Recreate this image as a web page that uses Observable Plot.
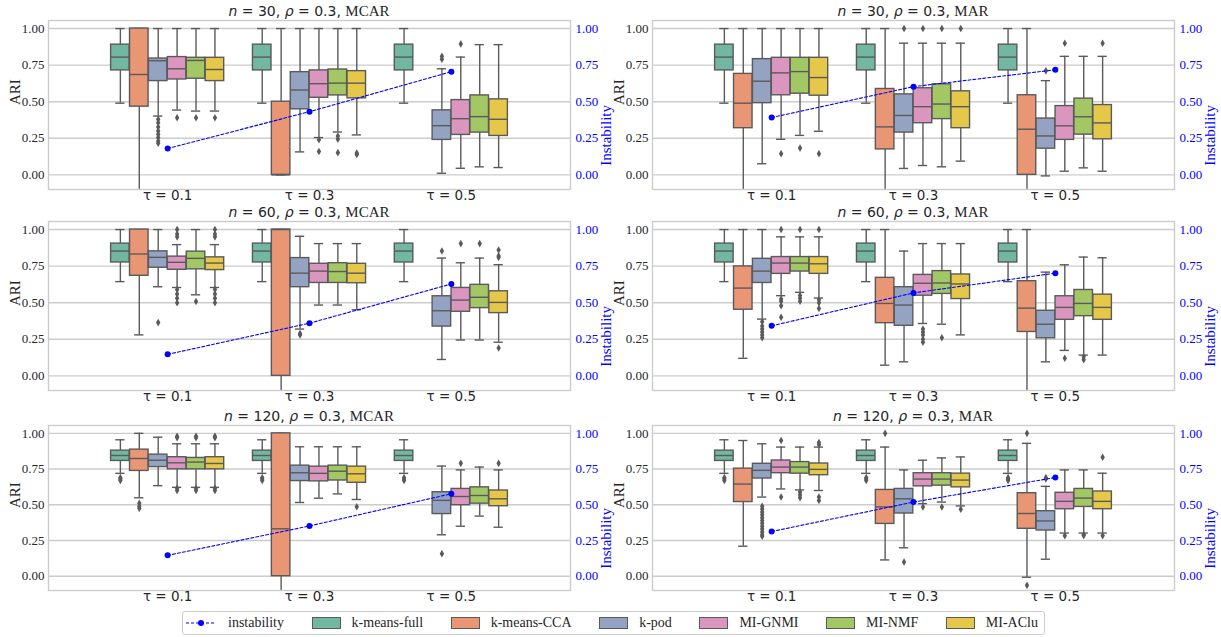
<!DOCTYPE html>
<html><head><meta charset="utf-8">
<script src="https://cdn.jsdelivr.net/npm/d3@7"></script>
<script src="https://cdn.jsdelivr.net/npm/@observablehq/plot@0.6"></script>
<style>
body{margin:0;background:#fff;}
#root{position:relative;width:1221px;height:637px;background:#fff;overflow:hidden;}
.pan{position:absolute;}
.pan svg{max-width:none;overflow:visible;}
.ttl{position:absolute;height:15px;line-height:15px;text-align:center;font-family:"DejaVu Sans";font-size:14px;color:#262626;white-space:nowrap;}
.ttl .s{font-family:"Liberation Serif","Times New Roman",serif;font-size:15px;}
#legend{position:absolute;left:182px;top:611px;width:863px;height:24px;box-sizing:border-box;border:1px solid #cccccc;border-radius:3px;display:flex;align-items:center;justify-content:space-between;padding:0 6px 0 2px;font-family:"Liberation Serif","Times New Roman",serif;font-size:14px;color:#262626;white-space:nowrap;}
#legend .it{display:flex;align-items:center;gap:11px;flex-shrink:0;}
#legend .sw{width:29px;height:12px;box-sizing:border-box;border:1.3px solid #5a5a5a;}
</style></head>
<body><div id="root"></div>
<script>
const methods = ["k-means-full","k-means-CCA","k-pod","MI-GNMI","MI-NMF","MI-AClu"];
const colors = ["#72b7a1","#e99675","#95a3c3","#db96c0","#a2c764","#e5c849"];
const tauLabels = ["τ = 0.1","τ = 0.3","τ = 0.5"];
const yTicks = [0, 0.25, 0.5, 0.75, 1];

// k-means-full (complete data) stats per n: [low, q1, median, q3, high, outliers]
const fullN30 = [0.49, 0.714, 0.805, 0.89, 1.0, []];
const fullN60 = [0.644, 0.775, 0.853, 0.904, 1.0, []];
const fullN120 = [0.72, 0.807, 0.845, 0.879, 0.955, [0.69, 0.68, 0.67]];

// rows: [tau index, method, low, q1, median, q3, high, outliers]
const n30MCAR = [
 [0,"k-means-CCA",-0.15,0.466,0.686,1.0,1.0,[]],
 [0,"k-pod",0.402,0.641,0.78,0.795,1.0,[0.38,0.356,0.327,0.30,0.277,0.255,0.232,0.216]],
 [0,"MI-GNMI",0.443,0.652,0.725,0.805,1.0,[0.39]],
 [0,"MI-NMF",0.436,0.657,0.782,0.80,1.0,[0.39]],
 [0,"MI-AClu",0.436,0.641,0.72,0.80,1.0,[0.39]],
 [1,"k-means-CCA",0,0,0,0.5,1.0,[]],
 [1,"k-pod",0.157,0.448,0.58,0.702,1.0,[]],
 [1,"MI-GNMI",0.255,0.527,0.623,0.714,1.0,[0.24,0.16]],
 [1,"MI-NMF",0.293,0.543,0.627,0.72,1.0,[0.266,0.243,0.152]],
 [1,"MI-AClu",0.273,0.523,0.627,0.709,1.0,[0.15,0.14]],
 [2,"k-pod",0.011,0.239,0.336,0.441,0.725,[0.81,0.79]],
 [2,"MI-GNMI",0.045,0.273,0.384,0.511,0.805,[0.895]],
 [2,"MI-NMF",0.055,0.289,0.398,0.543,0.89,[]],
 [2,"MI-AClu",0.05,0.266,0.38,0.516,0.89,[]]
];
const instN30MCAR = [0.18, 0.432, 0.705];

const n30MAR = [
 [0,"k-means-CCA",-0.15,0.319,0.49,0.69,1.0,[]],
 [0,"k-pod",0.076,0.49,0.64,0.791,1.0,[]],
 [0,"MI-GNMI",0.243,0.544,0.697,0.80,1.0,[0.145]],
 [0,"MI-NMF",0.27,0.555,0.706,0.80,1.0,[0.183]],
 [0,"MI-AClu",0.298,0.541,0.665,0.80,1.0,[0.145]],
 [1,"k-means-CCA",-0.15,0.174,0.328,0.587,1.0,[]],
 [1,"k-pod",0.044,0.289,0.406,0.55,0.90,[1.0]],
 [1,"MI-GNMI",0.064,0.353,0.466,0.592,0.90,[1.0]],
 [1,"MI-NMF",0.055,0.381,0.484,0.619,0.90,[1.0]],
 [1,"MI-AClu",0.094,0.319,0.466,0.571,0.90,[1.0]],
 [2,"k-means-CCA",-0.15,0.0,0.312,0.544,1.0,[]],
 [2,"k-pod",-0.007,0.179,0.266,0.385,0.644,[0.711]],
 [2,"MI-GNMI",0.025,0.239,0.335,0.47,0.81,[0.90]],
 [2,"MI-NMF",0.048,0.275,0.397,0.521,0.81,[]],
 [2,"MI-AClu",0.025,0.243,0.355,0.477,0.81,[0.90]]
];
const instN30MAR = [0.392, 0.603, 0.718];

const n60MCAR = [
 [0,"k-means-CCA",0.28,0.684,0.833,1.0,1.0,[]],
 [0,"k-pod",0.609,0.739,0.81,0.851,1.0,[0.364]],
 [0,"MI-GNMI",0.604,0.725,0.776,0.815,0.897,[1.0,0.97,0.95,0.59,0.56,0.53,0.50]],
 [0,"MI-NMF",0.554,0.728,0.803,0.849,1.0,[0.508]],
 [0,"MI-AClu",0.604,0.723,0.771,0.81,0.897,[1.0,0.97,0.95,0.59,0.56,0.53,0.50]],
 [1,"k-means-CCA",-0.15,0.0,1.0,1.0,1.0,[]],
 [1,"k-pod",0.32,0.606,0.702,0.805,0.954,[0.29,0.28]],
 [1,"MI-GNMI",0.484,0.635,0.716,0.766,0.904,[]],
 [1,"MI-NMF",0.484,0.635,0.713,0.77,0.904,[]],
 [1,"MI-AClu",0.452,0.633,0.702,0.766,0.904,[]],
 [2,"k-pod",0.112,0.337,0.445,0.544,0.805,[0.853]],
 [2,"MI-GNMI",0.245,0.438,0.518,0.601,0.773,[0.904]],
 [2,"MI-NMF",0.245,0.463,0.537,0.622,0.805,[0.904]],
 [2,"MI-AClu",0.23,0.429,0.502,0.578,0.76,[0.86,0.82,0.81,0.19]]
];
const instN60MCAR = [0.147, 0.36, 0.628];

const n60MAR = [
 [0,"k-means-CCA",0.12,0.452,0.60,0.748,1.0,[]],
 [0,"k-pod",0.388,0.635,0.716,0.80,1.0,[0.37,0.34,0.32,0.30,0.28,0.26]],
 [0,"MI-GNMI",0.548,0.697,0.771,0.812,0.95,[1.0,0.525,0.51,0.48,0.40]],
 [0,"MI-NMF",0.571,0.713,0.771,0.812,0.95,[1.0,0.55,0.53,0.51]],
 [0,"MI-AClu",0.532,0.697,0.766,0.812,0.95,[1.0,0.52,0.50,0.46]],
 [1,"k-means-CCA",0.073,0.36,0.495,0.67,1.0,[]],
 [1,"k-pod",0.096,0.342,0.484,0.606,0.853,[]],
 [1,"MI-GNMI",0.358,0.548,0.633,0.69,0.904,[0.32,0.30,0.28,0.25,0.23]],
 [1,"MI-NMF",0.353,0.56,0.635,0.716,0.904,[0.26]],
 [1,"MI-AClu",0.28,0.525,0.628,0.693,0.904,[]],
 [2,"k-means-CCA",-0.15,0.30,0.463,0.647,1.0,[]],
 [2,"k-pod",0.096,0.257,0.353,0.445,0.709,[]],
 [2,"MI-GNMI",0.174,0.383,0.468,0.544,0.759,[0.12]],
 [2,"MI-NMF",0.142,0.408,0.495,0.587,0.812,[0.13,0.11]],
 [2,"MI-AClu",0.142,0.383,0.468,0.555,0.807,[]]
];
const instN60MAR = [0.342, 0.567, 0.702];

const n120MCAR = [
 [0,"k-means-CCA",0.549,0.737,0.824,0.886,1.0,[0.51,0.49,0.475]],
 [0,"k-pod",0.634,0.764,0.812,0.851,0.973,[]],
 [0,"MI-GNMI",0.622,0.748,0.794,0.833,0.927,[0.98,0.97,0.615,0.60]],
 [0,"MI-NMF",0.622,0.748,0.799,0.828,0.927,[0.98,0.97,0.615,0.60]],
 [0,"MI-AClu",0.622,0.748,0.789,0.833,0.927,[0.98,0.97,0.615,0.60]],
 [1,"k-means-CCA",-0.15,0.0,0.332,1.0,1.0,[]],
 [1,"k-pod",0.516,0.666,0.724,0.774,0.906,[]],
 [1,"MI-GNMI",0.546,0.664,0.72,0.767,0.906,[]],
 [1,"MI-NMF",0.576,0.67,0.735,0.774,0.906,[]],
 [1,"MI-AClu",0.537,0.654,0.717,0.767,0.906,[0.486]],
 [2,"k-pod",0.29,0.435,0.531,0.588,0.771,[0.158]],
 [2,"MI-GNMI",0.35,0.497,0.558,0.611,0.744,[0.79]],
 [2,"MI-NMF",0.421,0.508,0.565,0.622,0.764,[]],
 [2,"MI-AClu",0.343,0.49,0.542,0.60,0.744,[0.79]]
];
const instN120MCAR = [0.146, 0.352, 0.577];

const n120MAR = [
 [0,"k-means-CCA",0.21,0.519,0.645,0.753,0.95,[]],
 [0,"k-pod",0.554,0.684,0.741,0.787,0.927,[0.49,0.47,0.45,0.43,0.41,0.39,0.37,0.35,0.33,0.31,0.29,0.28]],
 [0,"MI-GNMI",0.611,0.721,0.764,0.81,0.904,[0.95,0.554]],
 [0,"MI-NMF",0.604,0.718,0.764,0.799,0.904,[0.59,0.57,0.55]],
 [0,"MI-AClu",0.60,0.707,0.748,0.789,0.904,[0.936,0.92,0.554,0.53]],
 [1,"k-means-CCA",0.114,0.366,0.485,0.604,0.904,[1.0]],
 [1,"k-pod",0.199,0.439,0.542,0.611,0.744,[0.10]],
 [1,"MI-GNMI",0.508,0.629,0.68,0.721,0.812,[0.485]],
 [1,"MI-NMF",0.519,0.634,0.68,0.721,0.828,[0.485]],
 [1,"MI-AClu",0.492,0.622,0.673,0.718,0.835,[0.469]],
 [2,"k-means-CCA",-0.007,0.332,0.439,0.581,0.93,[1.0,-0.064]],
 [2,"k-pod",0.119,0.32,0.387,0.455,0.629,[0.69,0.68]],
 [2,"MI-GNMI",0.302,0.469,0.524,0.584,0.744,[0.284]],
 [2,"MI-NMF",0.302,0.485,0.547,0.611,0.744,[0.29,0.285]],
 [2,"MI-AClu",0.302,0.469,0.524,0.593,0.721,[0.833,0.284]]
];
const instN120MAR = [0.313, 0.519, 0.691];

const panels = [
 {n:"30", mech:"MCAR", full:fullN30, rows:n30MCAR, inst:instN30MCAR, col:0, row:0},
 {n:"30", mech:"MAR", full:fullN30, rows:n30MAR, inst:instN30MAR, col:1, row:0},
 {n:"60", mech:"MCAR", full:fullN60, rows:n60MCAR, inst:instN60MCAR, col:0, row:1},
 {n:"60", mech:"MAR", full:fullN60, rows:n60MAR, inst:instN60MAR, col:1, row:1},
 {n:"120", mech:"MCAR", full:fullN120, rows:n120MCAR, inst:instN120MCAR, col:0, row:2},
 {n:"120", mech:"MAR", full:fullN120, rows:n120MAR, inst:instN120MAR, col:1, row:2}
];

const root = document.getElementById("root");
const frameTops = [20, 221, 425];
const frameHs = [169, 169, 165];
const colLeft = [0, 604];
const colWidth = [610, 617];
const colMR = [40, 47];
const ML = 48, MT = 2, MB = 16;
const EDGE = "#5a5a5a";
const SERIF = "'Liberation Serif', 'Times New Roman', serif";
const bw = 0.8 / 6 * 0.98;
const off = i => -0.4 + 0.8 / 12 + i * 0.8 / 6;

for (const p of panels) {
  const allRows = [0, 1, 2].map(t => [t, "k-means-full", ...p.full]).concat(p.rows);
  const boxes = allRows.map(r => {
    const x = r[0] + off(methods.indexOf(r[1]));
    return {x, x1: x - bw / 2, x2: x + bw / 2, c1: x - bw / 4, c2: x + bw / 4,
            method: r[1], low: r[2], q1: r[3], med: r[4], q3: r[5], high: r[6]};
  });
  const outs = allRows.flatMap(r => r[7].map(v => ({x: r[0] + off(methods.indexOf(r[1])), y: v})));
  const instData = p.inst.map((v, i) => ({x: i, y: v}));
  const fh = frameHs[p.row];
  const w = colWidth[p.col];
  const chart = Plot.plot({
    width: w, height: MT + fh + MB,
    marginLeft: ML, marginRight: colMR[p.col], marginTop: MT, marginBottom: MB,
    style: {fontFamily: SERIF, fontSize: "13px", color: "#262626", background: "transparent"},
    x: {type: "linear", domain: [-0.84, 2.84]},
    y: {domain: [-0.1, 1.055]},
    color: {domain: methods, range: colors},
    marks: [
      Plot.gridY(yTicks, {stroke: "#cccccc", strokeOpacity: 1, strokeWidth: 1.4}),
      Plot.ruleX(boxes, {x: "x", y1: "low", y2: "q1", stroke: EDGE, strokeWidth: 1.4, clip: true}),
      Plot.ruleX(boxes, {x: "x", y1: "q3", y2: "high", stroke: EDGE, strokeWidth: 1.4, clip: true}),
      Plot.ruleY(boxes.filter(b => b.low > -0.1), {y: "low", x1: "c1", x2: "c2", stroke: EDGE, strokeWidth: 1.4}),
      Plot.ruleY(boxes, {y: "high", x1: "c1", x2: "c2", stroke: EDGE, strokeWidth: 1.4}),
      Plot.rect(boxes, {x1: "x1", x2: "x2", y1: "q1", y2: "q3", fill: "method", stroke: EDGE, strokeWidth: 1.4}),
      Plot.ruleY(boxes, {y: "med", x1: "x1", x2: "x2", stroke: EDGE, strokeWidth: 1.4}),
      Plot.dot(outs, {x: "x", y: "y", symbol: "diamond", r: 2.3, fill: EDGE, stroke: "none"}),
      Plot.line(instData, {x: "x", y: "y", stroke: "#0000ff", strokeDasharray: "3,2", strokeWidth: 1.1}),
      Plot.dot(instData, {x: "x", y: "y", r: 3, fill: "#0000ff", stroke: "none"}),
      Plot.frame({stroke: "#cccccc", strokeWidth: 1.4}),
      Plot.axisX([0, 1, 2], {tickFormat: i => tauLabels[i], tickSize: 0, tickPadding: 1, fontSize: 13.5, fontFamily: "DejaVu Sans", fill: "#262626", label: null}),
      Plot.axisY(yTicks, {anchor: "left", tickFormat: d3.format(".2f"), tickSize: 0, tickPadding: 4, fontSize: 13, fontFamily: SERIF, fill: "#262626", label: null}),
      Plot.axisY(yTicks, {anchor: "right", tickFormat: d3.format(".2f"), tickSize: 0, tickPadding: 5, fontSize: 13, fontFamily: SERIF, fill: "#0000ff", label: null}),
      Plot.text(["ARI"], {frameAnchor: "left", dx: -33, rotate: -90, fontSize: 15, fontFamily: SERIF, fill: "#262626"}),
      Plot.text(["Instability"], {frameAnchor: "right", dx: 36, rotate: -90, fontSize: 15, fontFamily: SERIF, fill: "#0000ff"})
    ]
  });
  const div = document.createElement("div");
  div.className = "pan";
  div.style.left = colLeft[p.col] + "px";
  div.style.top = (frameTops[p.row] - MT) + "px";
  div.appendChild(chart);
  root.appendChild(div);
  const t = document.createElement("div");
  t.className = "ttl";
  t.style.left = (colLeft[p.col] + ML) + "px";
  t.style.width = (w - ML - colMR[p.col]) + "px";
  t.style.top = (frameTops[p.row] - 16) + "px";
  t.innerHTML = `<i>n</i> = ${p.n}, <i>ρ</i> = 0.3, <span class="s">${p.mech}</span>`;
  root.appendChild(t);
}

// legend
const lg = document.createElement("div");
lg.id = "legend";
let html = `<div class="it"><svg width="32" height="10"><line x1="1" y1="5" x2="31" y2="5" stroke="#0000ff" stroke-width="1.1" stroke-dasharray="3,2"/><circle cx="16" cy="5" r="3" fill="#0000ff"/></svg><span>instability</span></div>`;
methods.forEach((m, i) => {
  html += `<div class="it"><div class="sw" style="background:${colors[i]}"></div><span>${m}</span></div>`;
});
lg.innerHTML = html;
root.appendChild(lg);
</script>
</body></html>
